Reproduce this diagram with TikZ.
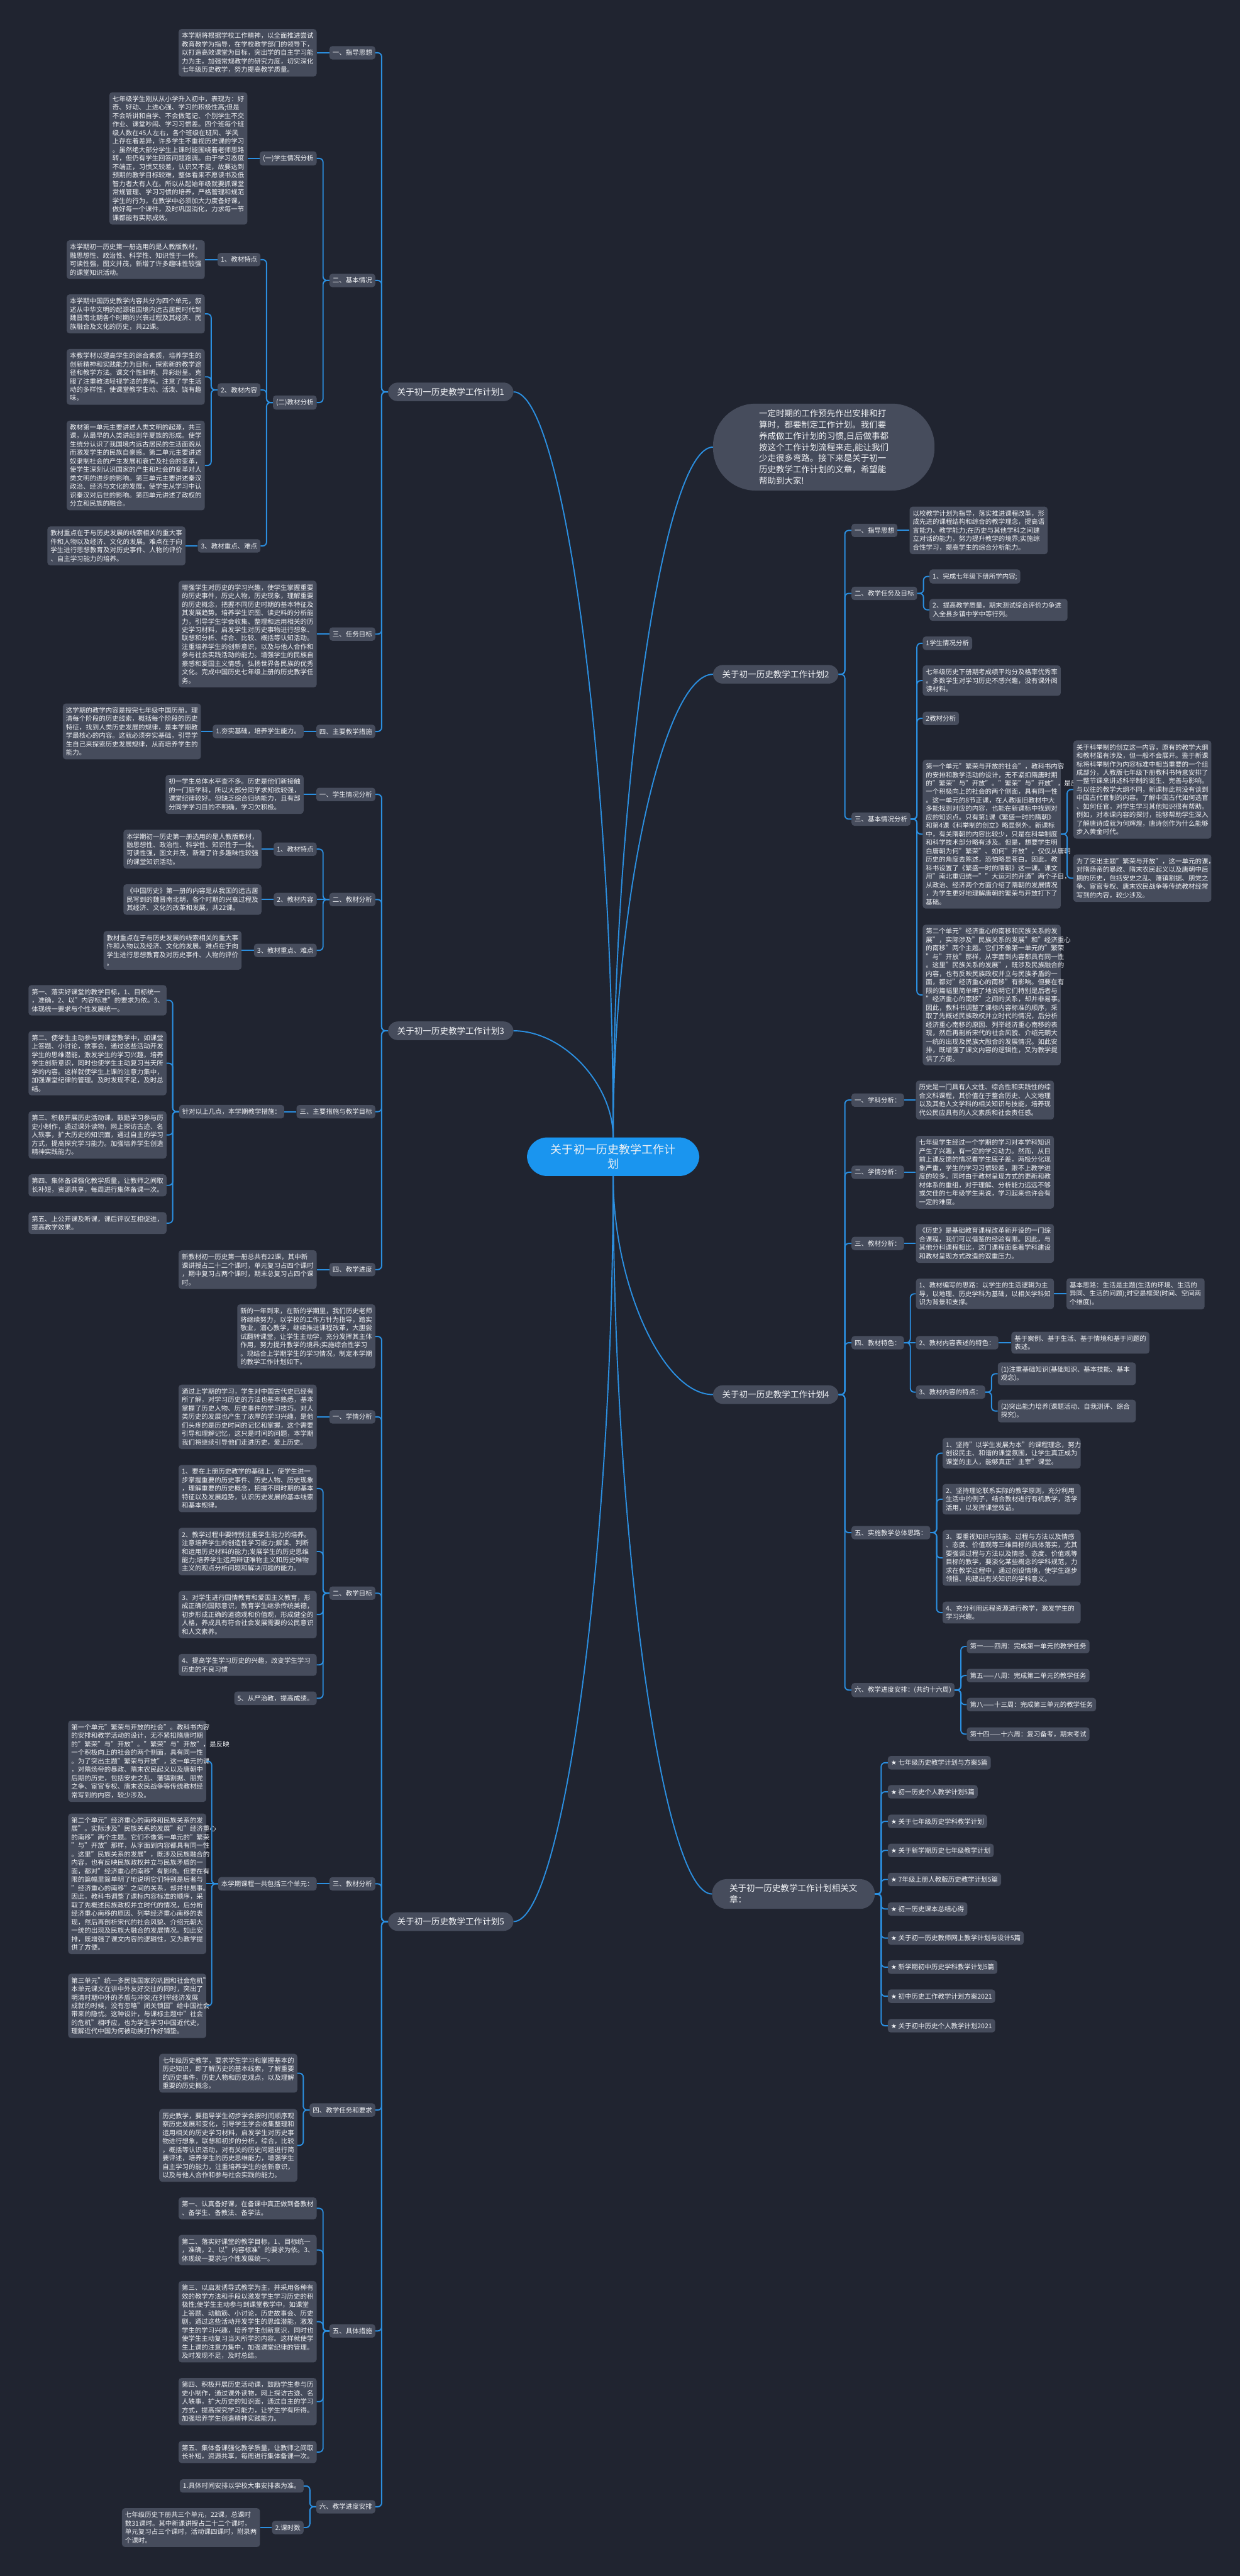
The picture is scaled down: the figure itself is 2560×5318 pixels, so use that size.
\documentclass[tikz,border=0pt]{standalone}
\usepackage{fontspec}
\setmainfont{Noto Sans CJK SC}
\newfontfamily\symfont{DejaVu Sans}
\usetikzlibrary{calc}

\definecolor{bgdark}{RGB}{32,36,48}
\definecolor{boxgray}{RGB}{70,76,92}
\definecolor{linkblue}{RGB}{43,143,224}
\definecolor{rootblue}{RGB}{26,149,239}
\definecolor{inkwhite}{RGB}{240,242,245}

\begin{document}
\begin{tikzpicture}[
  x=1pt, y=-1pt,
  every node/.style={text=inkwhite},
  root/.style={rectangle, rounded corners=42pt, fill=rootblue, align=center,
               text width=260pt, inner xsep=48pt, inner ysep=14pt,
               font=\fontsize{23.4}{30}\selectfont},
  intro/.style={rectangle, rounded corners=88pt, fill=boxgray, align=left,
                inner xsep=95pt, inner ysep=12pt,
                font=\fontsize{17.5}{23.2}\selectfont},
  plan/.style={rectangle, rounded corners=20pt, fill=boxgray, align=left,
               inner xsep=19pt, inner ysep=11pt,
               font=\fontsize{17.6}{23}\selectfont},
  lbl/.style={rectangle, rounded corners=6pt, fill=boxgray, align=left,
              inner xsep=6.5pt, inner ysep=7.5pt,
              font=\fontsize{13.6}{17.5}\selectfont},
  txt/.style={lbl, text width=272pt},
  link/.style={draw=linkblue, line width=2.5pt, rounded corners=8pt},
  branch/.style={to path={.. controls ($(\tikztostart)!0.5!(\tikztostart |- \tikztotarget)$)
                 and ($(\tikztotarget)!0.5!(\tikztostart |- \tikztotarget)$) .. (\tikztotarget)}},
]
\useasboundingbox (0,0) rectangle (2560,5318);
\fill[bgdark] (0,0) rectangle (2560,5318);

% ----------------------------------------------------------------- centre --
\node[root] (root) at (1266,2388) {关于初一历史教学工作计\\划};
\node[intro, anchor=west] (intro) at (1472,923)
  {一定时期的工作预先作出安排和打\\算时，都要制定工作计划。我们要\\养成做工作计划的习惯,日后做事都\\按这个工作计划流程来走,能让我们\\少走很多弯路。接下来是关于初一\\历史教学工作计划的文章，希望能\\帮助到大家!};

% ------------------------------------------------------------------ plan 1 --
\node[plan, anchor=west] (p1) at (801,809) {关于初一历史教学工作计划1};
\node[lbl, anchor=east] (p1a) at (775,109) {一、指导思想};
\node[txt, anchor=east] (p1at) at (654,109) {本学期将根据学校工作精神，以全面推进尝试\\教育教学为指导，在学校教学部门的领导下，\\以打造高效课堂为目标，突出学的自主学习能\\力为主，加强常规教学的研究力度，切实深化\\七年级历史教学，努力提高教学质量。};
\node[lbl, anchor=east] (p1b) at (775,579) {二、基本情况};
\node[lbl, anchor=east] (p1b1) at (654,327) {(一)学生情况分析};
\node[txt, anchor=east] (p1b1t) at (511,327) {七年级学生刚从从小学升入初中，表现为：好\\奇、好动、上进心强、学习的积极性高;但是\\不会听讲和自学、不会做笔记、个别学生不交\\作业、课堂吵闹、学习习惯差。四个班每个班\\级人数在45人左右，各个班级在班风、学风\\上存在着差异，许多学生不重视历史课的学习\\。虽然绝大部分学生上课时能围绕着老师思路\\转，但仍有学生回答问题跑调。由于学习态度\\不端正，习惯又较差，认识又不足，故要达到\\预期的教学目标较难，整体看来不愿读书及低\\智力者大有人在。所以从起始年级就要抓课堂\\常规管理、学习习惯的培养，严格管理和规范\\学生的行为，在教学中必须加大力度备好课，\\做好每一个课件，及时巩固消化，力求每一节\\课都能有实际成效。};
\node[lbl, anchor=east] (p1b2) at (654,831) {(二)教材分析};
\node[lbl, anchor=east] (p1b2a) at (538,536) {1、教材特点};
\node[txt, anchor=east] (p1b2at) at (423,536) {本学期初一历史第一册选用的是人教版教材，\\融思想性、政治性、科学性、知识性于一体。\\可读性强，图文并茂，新增了许多趣味性较强\\的课堂知识活动。};
\node[lbl, anchor=east] (p1b2b) at (538,805) {2、教材内容};
\node[txt, anchor=east] (p1b2b1) at (423,648) {本学期中国历史教学内容共分为四个单元，叙\\述从中华文明的起源祖国境内远古居民时代到\\魏晋南北朝各个时期的兴衰过程及其经济、民\\族融合及文化的历史，共22课。};
\node[txt, anchor=east] (p1b2b2) at (423,778) {本教学材以提高学生的综合素质，培养学生的\\创新精神和实践能力为目标，探索新的教学途\\径和教学方法。课文个性鲜明、异彩纷呈。克\\服了注重教法轻视学法的弊病。注意了学生活\\动的多样性，使课堂教学生动、活泼、饶有趣\\味。};
\node[txt, anchor=east] (p1b2b3) at (423,961) {教材第一单元主要讲述人类文明的起源，共三\\课，从最早的人类讲起到华夏族的形成。使学\\生统分认识了我国境内远古居民的生活面貌从\\而激发学生的民族自豪感。第二单元主要讲述\\奴隶制社会的产生发展和衰亡及社会的变革，\\使学生深刻认识国家的产生和社会的变革对人\\类文明的进步的影响。第三单元主要讲述秦汉\\政治、经济与文化的发展，使学生从学习中认\\识秦汉对后世的影响。第四单元讲述了政权的\\分立和民族的融合。};
\node[lbl, anchor=east] (p1b2c) at (538,1127) {3、教材重点、难点};
\node[txt, anchor=east] (p1b2ct) at (383,1127) {教材重点在于与历史发展的线索相关的重大事\\件和人物以及经济、文化的发展。难点在于向\\学生进行思想教育及对历史事件、人物的评价\\、自主学习能力的培养。};
\node[lbl, anchor=east] (p1c) at (775,1309) {三、任务目标};
\node[txt, anchor=east] (p1ct) at (654,1309) {增强学生对历史的学习兴趣，使学生掌握重要\\的历史事件，历史人物，历史现象，理解重要\\的历史概念，把握不同历史时期的基本特征及\\其发展趋势。培养学生识图、读史料的分析能\\力，引导学生学会收集、整理和运用相关的历\\史学习材料，启发学生对历史事物进行想象、\\联想和分析、综合、比较、概括等认知活动。\\注重培养学生的创新意识，以及与他人合作和\\参与社会实践活动的能力。增强学生的民族自\\豪感和爱国主义情感，弘扬世界各民族的优秀\\文化。完成中国历史七年级上册的历史教学任\\务。};
\node[lbl, anchor=east] (p1d) at (775,1510) {四、主要教学措施};
\node[lbl, anchor=east] (p1d1) at (627,1510) {1.夯实基础，培养学生能力。};
\node[txt, anchor=east] (p1d1t) at (415,1510) {这学期的教学内容是授完七年级中国历册。理\\清每个阶段的历史线索，概括每个阶段的历史\\特征，找到人类历史发展的规律，是本学期教\\学最核心的内容。这就必须夯实基础，引导学\\生自己来探索历史发展规律，从而培养学生的\\能力。};

% ------------------------------------------------------------------ plan 3 --
\node[plan, anchor=west] (p3) at (801,2128) {关于初一历史教学工作计划3};
\node[lbl, anchor=east] (p3a) at (775,1640) {一、学生情况分析};
\node[txt, anchor=east] (p3at) at (627,1640) {初一学生总体水平查不多。历史是他们新接触\\的一门新学科，所以大部分同学求知欲较强，\\课堂纪律较好。但缺乏综合归纳能力，且有部\\分同学学习目的不明确，学习欠积极。};
\node[lbl, anchor=east] (p3b) at (775,1857) {二、教材分析};
\node[lbl, anchor=east] (p3b1) at (654,1753) {1、教材特点};
\node[txt, anchor=east] (p3b1t) at (540,1753) {本学期初一历史第一册选用的是人教版教材，\\融思想性、政治性、科学性、知识性于一体。\\可读性强，图文并茂，新增了许多趣味性较强\\的课堂知识活动。};
\node[lbl, anchor=east] (p3b2) at (654,1857) {2、教材内容};
\node[txt, anchor=east] (p3b2t) at (540,1857) {《中国历史》第一册的内容是从我国的远古居\\民写到的魏晋南北朝，各个时期的兴衰过程及\\其经济、文化的改革和发展，共22课。};
\node[lbl, anchor=east] (p3b3) at (654,1962) {3、教材重点、难点};
\node[txt, anchor=east] (p3b3t) at (499,1962) {教材重点在于与历史发展的线索相关的重大事\\件和人物以及经济、文化的发展。难点在于向\\学生进行思想教育及对历史事件、人物的评价\\。};
\node[lbl, anchor=east] (p3c) at (775,2295) {三、主要措施与教学目标};
\node[lbl, anchor=east] (p3c1) at (587,2295) {针对以上几点，本学期教学措施：};
\node[txt, anchor=east] (p3c1a) at (344,2065) {第一、落实好课堂的教学目标，1、目标统一\\，准确，2、以"内容标准"的要求为依。3、\\体现统一要求与个性发展统一。};
\node[txt, anchor=east] (p3c1b) at (344,2195) {第二、使学生主动参与到课堂教学中，如课堂\\上答题、小讨论，故事会，通过这些活动开发\\学生的思维潜能，激发学生的学习兴趣，培养\\学生创新意识，同时也使学生主动复习当天所\\学的内容。这样就使学生上课的注意力集中，\\加强课堂纪律的管理。及时发现不足，及时总\\结。};
\node[txt, anchor=east] (p3c1c) at (344,2343) {第三、积极开展历史活动课，鼓励学习参与历\\史小制作，通过课外读物，网上探访古迹、名\\人轶事，扩大历史的知识面，通过自主的学习\\方式，提高探究学习能力。加强培养学生创造\\精神实践能力。};
\node[txt, anchor=east] (p3c1d) at (344,2447) {第四、集体备课强化教学质量，让教师之间取\\长补短，资源共享，每周进行集体备课一次。};
\node[txt, anchor=east] (p3c1e) at (344,2525) {第五、上公开课及听课，课后评议互相促进，\\提高教学效果。};
\node[lbl, anchor=east] (p3d) at (775,2621) {四、教学进度};
\node[txt, anchor=east] (p3dt) at (654,2621) {新教材初一历史第一册总共有22课，其中新\\课讲授占二十二个课时，单元复习占四个课时\\，期中复习占两个课时，期末总复习占四个课\\时。};

% ------------------------------------------------------------------ plan 5 --
\node[plan, anchor=west] (p5) at (801,3967) {关于初一历史教学工作计划5};
\node[txt, anchor=east] (p5o) at (775,2759) {新的一年到来，在新的学期里，我们历史老师\\将继续努力，以学校的工作方针为指导，踏实\\敬业，潜心教学，继续推进课程改革，大胆尝\\试翻转课堂，让学生主动学，充分发挥其主体\\作用，努力提升教学的境界;实施综合性学习\\。现结合上学期学生的学习情况，制定本学期\\的教学工作计划如下。};
\node[lbl, anchor=east] (p5a) at (775,2925) {一、学情分析};
\node[txt, anchor=east] (p5at) at (654,2925) {通过上学期的学习，学生对中国古代史已经有\\所了解，对学习历史的方法也基本熟悉，基本\\掌握了历史人物、历史事件的学习技巧。对人\\类历史的发展也产生了浓厚的学习兴趣，是他\\们头疼的是历史时间的记忆和掌握，这个需要\\引导和理解记忆，这只是时间的问题，本学期\\我们将继续引导他们走进历史，爱上历史。};
\node[lbl, anchor=east] (p5b) at (775,3289) {二、教学目标};
\node[txt, anchor=east] (p5b1) at (654,3073) {1、要在上册历史教学的基础上，使学生进一\\步掌握重要的历史事件、历史人物、历史现象\\，理解重要的历史概念，把握不同时期的基本\\特征以及发展趋势，认识历史发展的基本线索\\和基本规律。};
\node[txt, anchor=east] (p5b2) at (654,3203) {2、教学过程中要特别注重学生能力的培养。\\注意培养学生的创造性学习能力;解读、判断\\和运用历史材料的能力;发展学生的历史思维\\能力;培养学生运用辩证唯物主义和历史唯物\\主义的观点分析问题和解决问题的能力。};
\node[txt, anchor=east] (p5b3) at (654,3333) {3、对学生进行国情教育和爱国主义教育，形\\成正确的国际意识，教育学生继承传统美德，\\初步形成正确的道德观和价值观，形成健全的\\人格，养成具有符合社会发展需要的公民意识\\和人文素养。};
\node[txt, anchor=east] (p5b4) at (654,3437) {4、提高学生学习历史的兴趣，改变学生学习\\历史的不良习惯};
\node[lbl, anchor=east] (p5b5) at (654,3506) {5、从严治教，提高成绩。};
\node[lbl, anchor=east] (p5c) at (775,3889) {三、教材分析};
\node[lbl, anchor=east] (p5c1) at (654,3889) {本学期课程一共包括三个单元：};
\node[txt, anchor=east] (p5c1a) at (426,3636) {第一个单元"繁荣与开放的社会"。教科书内容\\的安排和教学活动的设计，无不紧扣隋唐时期\\的"繁荣"与"开放"。"繁荣"与"开放"，是反映\\一个积极向上的社会的两个侧面，具有同一性\\。为了突出主题"繁荣与开放"，这一单元的课\\，对隋炀帝的暴政、隋末农民起义以及唐朝中\\后期的历史，包括安史之乱、藩镇割据、朋党\\之争、宦官专权、唐末农民战争等传统教材经\\常写到的内容，较少涉及。};
\node[txt, anchor=east] (p5c1b) at (426,3889) {第二个单元"经济重心的南移和民族关系的发\\展"。实际涉及"民族关系的发展"和"经济重心\\的南移"两个主题。它们不像第一单元的"繁荣\\"与"开放"那样，从字面到内容都具有同一性\\。这里"民族关系的发展"，既涉及民族融合的\\内容，也有反映民族政权并立与民族矛盾的一\\面，都对"经济重心的南移"有影响。但要在有\\限的篇幅里简单明了地说明它们特别是后者与\\"经济重心的南移"之间的关系，却并非易事。\\因此，教科书调整了课标内容标准的顺序，采\\取了先概述民族政权并立时代的情况，后分析\\经济重心南移的原因、列举经济重心南移的表\\现，然后再剖析宋代的社会风貌、介绍元朝大\\一统的出现及民族大融合的发展情况。如此安\\排，既增强了课文内容的逻辑性，又为教学提\\供了方便。};
\node[txt, anchor=east] (p5c1c) at (426,4141) {第三单元"统一多民族国家的巩固和社会危机"\\本单元课文在讲中外友好交往的同时，突出了\\明清时期中外的矛盾与冲突;在列举经济发展\\成就的时候，没有忽略"闭关锁国"给中国社会\\带来的隐忧。这种设计，与课标主题中"社会\\的危机"相呼应，也为学生学习中国近代史，\\理解近代中国为何被动挨打作好铺垫。};
\node[lbl, anchor=east] (p5d) at (775,4356) {四、教学任务和要求};
\node[txt, anchor=east] (p5d1) at (614,4280) {七年级历史教学，要求学生学习和掌握基本的\\历史知识，即了解历史的基本线索，了解重要\\的历史事件，历史人物和历史观点，以及理解\\重要的历史概念。};
\node[txt, anchor=east] (p5d2) at (614,4429) {历史教学，要指导学生初步学会按时间顺序观\\察历史发展和变化，引导学生学会收集整理和\\运用相关的历史学习材料，启发学生对历史事\\物进行想象，联想和初步的分析，综合，比较\\，概括等认识活动，对有关的历史问题进行简\\要评述，培养学生的历史思维能力，增强学生\\自主学习的能力，注重培养学生的创新意识，\\以及与他人合作和参与社会实践的能力。};
\node[lbl, anchor=east] (p5e) at (775,4812) {五、具体措施};
\node[txt, anchor=east] (p5e1) at (654,4559) {第一、认真备好课，在备课中真正做到备教材\\、备学生、备教法、备学法。};
\node[txt, anchor=east] (p5e2) at (654,4645) {第二、落实好课堂的教学目标，1、目标统一\\，准确，2、以"内容标准"的要求为依。3、\\体现统一要求与个性发展统一。};
\node[txt, anchor=east] (p5e3) at (654,4793) {第三、以启发诱导式教学为主，并采用各种有\\效的教学方法和手段以激发学生学习历史的积\\极性;使学生主动参与到课堂教学中，如课堂\\上答题、动脑筋、小讨论，历史故事会、历史\\剧，通过这些活动开发学生的思维潜能，激发\\学生的学习兴趣，培养学生创新意识，同时也\\使学生主动复习当天所学的内容。这样就使学\\生上课的注意力集中，加强课堂纪律的管理。\\及时发现不足，及时总结。};
\node[txt, anchor=east] (p5e4) at (654,4958) {第四、积极开展历史活动课，鼓励学生参与历\\史小制作，通过课外读物，网上探访古迹、名\\人轶事，扩大历史的知识面，通过自主的学习\\方式，提高探究学习能力，让学生学有所得。\\加强培养学生创造精神实践能力。};
\node[txt, anchor=east] (p5e5) at (654,5062) {第五、集体备课强化教学质量，让教师之间取\\长补短，资源共享，每周进行集体备课一次。};
\node[lbl, anchor=east] (p5f) at (775,5175) {六、教学进度安排};
\node[lbl, anchor=east] (p5f1) at (627,5132) {1.具体时间安排以学校大事安排表为准。};
\node[lbl, anchor=east] (p5f2) at (627,5218) {2.课时数};
\node[txt, anchor=east] (p5f2t) at (537,5218) {七年级历史下册共三个单元，22课，总课时\\数31课时。其中新课讲授占二十二个课时，\\单元复习占三个课时，活动课四课时，附录两\\个课时。};

% ------------------------------------------------------------------ plan 2 --
\node[plan, anchor=west] (p2) at (1472,1392) {关于初一历史教学工作计划2};
\node[lbl, anchor=west] (p2a) at (1758,1095) {一、指导思想};
\node[txt, anchor=west] (p2at) at (1878,1095) {以校教学计划为指导，落实推进课程改革，形\\成先进的课程结构和综合的教学理念，提高语\\言能力、教学能力;在历史与其他学科之间建\\立对话的能力，努力提升教学的境界;实施综\\合性学习，提高学生的综合分析能力。};
\node[lbl, anchor=west] (p2b) at (1758,1225) {二、教学任务及目标};
\node[lbl, anchor=west] (p2b1) at (1919,1190) {1、完成七年级下册所学内容;};
\node[txt, anchor=west] (p2b2) at (1919,1259) {2、提高教学质量，期末测试综合评价力争进\\入全县乡镇中学中等行列。};
\node[lbl, anchor=west] (p2c) at (1758,1691) {三、基本情况分析};
\node[lbl, anchor=west] (p2c1) at (1905,1328) {1学生情况分析};
\node[txt, anchor=west] (p2c2) at (1905,1405) {七年级历史下册期考成绩平均分及格率优秀率\\。多数学生对学习历史不感兴趣，没有课外阅\\读材料。};
\node[lbl, anchor=west] (p2c3) at (1905,1483) {2教材分析};
\node[txt, anchor=west] (p2c4) at (1905,1722) {第一个单元"繁荣与开放的社会"，教科书内容\\的安排和教学活动的设计，无不紧扣隋唐时期\\的"繁荣"与"开放"。"繁荣"与"开放"，是反映\\一个积极向上的社会的两个侧面，具有同一性\\。这一单元的8节正课，在人教版旧教材中大\\多能找到对应的内容，也能在新课标中找到对\\应的知识点。只有第1课《繁盛一时的隋朝》\\和第4课《科举制的创立》略显例外。新课标\\中，有关隋朝的内容比较少，只是在科举制度\\和科学技术部分略有涉及。但是，想要学生明\\白唐朝为何"繁荣"、如何"开放"，仅仅从唐朝\\历史的角度去陈述，恐怕略显苍白。因此，教\\科书设置了《繁盛一时的隋朝》这一课。课文\\用"南北重归统一""大运河的开通"两个子目，\\从政治、经济两个方面介绍了隋朝的发展情况\\，为学生更好地理解唐朝的繁荣与开放打下了\\基础。};
\node[txt, anchor=west] (p2c4a) at (2216,1630) {关于科举制的创立这一内容，原有的教学大纲\\和教材虽有涉及，但一般不会展开。鉴于新课\\标将科举制作为内容标准中相当重要的一个组\\成部分，人教版七年级下册教科书特意安排了\\一整节课来讲述科举制的诞生、完善与影响。\\与以往的教学大纲不同，新课标此前没有谈到\\中国古代官制的内容。了解中国古代如何选官\\、如何任官，对学生学习其他知识很有帮助。\\例如，对本课内容的探讨，能够帮助学生深入\\了解唐诗成就为何辉煌，唐诗创作为什么能够\\步入黄金时代。};
\node[txt, anchor=west] (p2c4b) at (2216,1813) {为了突出主题"繁荣与开放"，这一单元的课，\\对隋炀帝的暴政、隋末农民起义以及唐朝中后\\期的历史，包括安史之乱、藩镇割据、朋党之\\争、宦官专权、唐末农民战争等传统教材经常\\写到的内容，较少涉及。};
\node[txt, anchor=west] (p2c5) at (1905,2054) {第二个单元"经济重心的南移和民族关系的发\\展"，实际涉及"民族关系的发展"和"经济重心\\的南移"两个主题。它们不像第一单元的"繁荣\\"与"开放"那样，从字面到内容都具有同一性\\。这里"民族关系的发展"，既涉及民族融合的\\内容，也有反映民族政权并立与民族矛盾的一\\面，都对"经济重心的南移"有影响。但要在有\\限的篇幅里简单明了地说明它们特别是后者与\\"经济重心的南移"之间的关系，却并非易事。\\因此，教科书调整了课标内容标准的顺序，采\\取了先概述民族政权并立时代的情况，后分析\\经济重心南移的原因、列举经济重心南移的表\\现，然后再剖析宋代的社会风貌、介绍元朝大\\一统的出现及民族大融合的发展情况。如此安\\排，既增强了课文内容的逻辑性，又为教学提\\供了方便。};

% ------------------------------------------------------------------ plan 4 --
\node[plan, anchor=west] (p4) at (1472,2879) {关于初一历史教学工作计划4};
\node[lbl, anchor=west] (p4a) at (1758,2271) {一、学科分析：};
\node[txt, anchor=west] (p4at) at (1891,2271) {历史是一门具有人文性、综合性和实践性的综\\合文科课程，其价值在于整合历史、人文地理\\以及其他人文学科的相关知识与技能，培养现\\代公民应具有的人文素质和社会责任感。};
\node[lbl, anchor=west] (p4b) at (1758,2420) {二、学情分析：};
\node[txt, anchor=west] (p4bt) at (1891,2420) {七年级学生经过一个学期的学习对本学科知识\\产生了兴趣，有一定的学习动力。然而，从目\\前上课反馈的情况看学生底子差，两极分化现\\象严重，学生的学习习惯较差，跟不上教学进\\度的较多。同时由于教材呈现方式的更新和教\\材体系的重组，对于理解、分析能力远远不够\\或欠佳的七年级学生来说，学习起来也许会有\\一定的难度。};
\node[lbl, anchor=west] (p4c) at (1758,2567) {三、教材分析：};
\node[txt, anchor=west] (p4ct) at (1891,2567) {《历史》是基础教育课程改革新开设的一门综\\合课程，我们可以借鉴的经验有限。因此，与\\其他分科课程相比，这门课程面临着学科建设\\和教材呈现方式改造的双重压力。};
\node[lbl, anchor=west] (p4d) at (1758,2772) {四、教材特色：};
\node[txt, anchor=west] (p4d1) at (1891,2671) {1、教材编写的思路：以学生的生活逻辑为主\\导，以地理、历史学科为基础，以相关学科知\\识为背景和支撑。};
\node[txt, anchor=west] (p4d1t) at (2202,2671) {基本思路：生活是主题(生活的环境、生活的\\异同、生活的问题);时空是框架(时间、空间两\\个维度)。};
\node[lbl, anchor=west] (p4d2) at (1891,2772) {2、教材内容表述的特色：};
\node[txt, anchor=west] (p4d2t) at (2088,2772) {基于案例、基于生活、基于情境和基于问题的\\表述。};
\node[lbl, anchor=west] (p4d3) at (1891,2874) {3、教材内容的特点：};
\node[txt, anchor=west] (p4d3a) at (2060,2836) {(1)注重基础知识(基础知识、基本技能、基本\\观念)。};
\node[txt, anchor=west] (p4d3b) at (2060,2913) {(2)突出能力培养(课题活动、自我测评、综合\\探究)。};
\node[lbl, anchor=west] (p4e) at (1758,3164) {五、实施教学总体思路：};
\node[txt, anchor=west] (p4e1) at (1946,3000) {1、坚持"以学生发展为本"的课程理念，努力\\创设民主、和谐的课堂氛围，让学生真正成为\\课堂的主人，能够真正"主宰"课堂。};
\node[txt, anchor=west] (p4e2) at (1946,3095) {2、坚持理论联系实际的教学原则，充分利用\\生活中的例子，结合教材进行有机教学，活学\\活用，以发挥课堂效益。};
\node[txt, anchor=west] (p4e3) at (1946,3216) {3、要重视知识与技能、过程与方法以及情感\\、态度、价值观等三维目标的具体落实，尤其\\要强调过程与方法以及情感、态度、价值观等\\目标的教学，要淡化某些概念的学科规范，力\\求在教学过程中，通过创设情境，使学生逐步\\领悟、构建出有关知识的学科意义。};
\node[txt, anchor=west] (p4e4) at (1946,3329) {4、充分利用远程资源进行教学，激发学生的\\学习兴趣。};
\node[lbl, anchor=west] (p4f) at (1758,3489) {六、教学进度安排：(共约十六周)};
\node[lbl, anchor=west] (p4f1) at (1996,3399) {第一——四周：完成第一单元的教学任务};
\node[lbl, anchor=west] (p4f2) at (1996,3459) {第五——八周：完成第二单元的教学任务};
\node[lbl, anchor=west] (p4f3) at (1996,3519) {第八——十三周：完成第三单元的教学任务};
\node[lbl, anchor=west] (p4f4) at (1996,3580) {第十四——十六周：复习备考，期末考试};

% --------------------------------------------------------------- related --
\node[plan, anchor=west, inner xsep=36pt, rounded corners=30pt] (rel) at (1470,3910) {关于初一历史教学工作计划相关文\\章：};
\node[lbl, anchor=west] (rel1) at (1833,3639) {{\symfont ★} 七年级历史教学计划与方案5篇};
\node[lbl, anchor=west] (rel2) at (1833,3699) {{\symfont ★} 初一历史个人教学计划5篇};
\node[lbl, anchor=west] (rel3) at (1833,3760) {{\symfont ★} 关于七年级历史学科教学计划};
\node[lbl, anchor=west] (rel4) at (1833,3820) {{\symfont ★} 关于新学期历史七年级教学计划};
\node[lbl, anchor=west] (rel5) at (1833,3880) {{\symfont ★} 7年级上册人教版历史教学计划5篇};
\node[lbl, anchor=west] (rel6) at (1833,3941) {{\symfont ★} 初一历史课本总结心得};
\node[lbl, anchor=west] (rel7) at (1833,4001) {{\symfont ★} 关于初一历史教师网上教学计划与设计5篇};
\node[lbl, anchor=west] (rel8) at (1833,4061) {{\symfont ★} 新学期初中历史学科教学计划5篇};
\node[lbl, anchor=west] (rel9) at (1833,4121) {{\symfont ★} 初中历史工作教学计划方案2021};
\node[lbl, anchor=west] (rel10) at (1833,4182) {{\symfont ★} 关于初中历史个人教学计划2021};

% ------------------------------------------------------- root branches --
\draw[link] (root.north) to[branch] (p1.east);
\draw[link] (root.north) to[branch] (p3.east);
\draw[link] (root.south) to[branch] (p5.east);
\draw[link] (root.north) to[branch] (intro.west);
\draw[link] (root.north) to[branch] (p2.west);
\draw[link] (root.south) to[branch] (p4.west);
\draw[link] (root.south) to[branch] (rel.west);

% ------------------------------------------------------ plan 1 links --
\draw[link] (p1.west) -- ++(-13,0) |- (p1a.east);
\draw[link] (p1.west) -- ++(-13,0) |- (p1b.east);
\draw[link] (p1.west) -- ++(-13,0) |- (p1c.east);
\draw[link] (p1.west) -- ++(-13,0) |- (p1d.east);
\draw[link] (p1a.west) -- (p1at.east);
\draw[link] (p1b.west) -- ++(-13,0) |- (p1b1.east);
\draw[link] (p1b.west) -- ++(-13,0) |- (p1b2.east);
\draw[link] (p1b1.west) -- (p1b1t.east);
\draw[link] (p1b2.west) -- ++(-13,0) |- (p1b2a.east);
\draw[link] (p1b2.west) -- ++(-13,0) |- (p1b2b.east);
\draw[link] (p1b2.west) -- ++(-13,0) |- (p1b2c.east);
\draw[link] (p1b2a.west) -- (p1b2at.east);
\draw[link] (p1b2b.west) -- ++(-13,0) |- (p1b2b1.east);
\draw[link] (p1b2b.west) -- ++(-13,0) |- (p1b2b2.east);
\draw[link] (p1b2b.west) -- ++(-13,0) |- (p1b2b3.east);
\draw[link] (p1b2c.west) -- (p1b2ct.east);
\draw[link] (p1c.west) -- (p1ct.east);
\draw[link] (p1d.west) -- (p1d1.east);
\draw[link] (p1d1.west) -- (p1d1t.east);

% ------------------------------------------------------ plan 3 links --
\draw[link] (p3.west) -- ++(-13,0) |- (p3a.east);
\draw[link] (p3.west) -- ++(-13,0) |- (p3b.east);
\draw[link] (p3.west) -- ++(-13,0) |- (p3c.east);
\draw[link] (p3.west) -- ++(-13,0) |- (p3d.east);
\draw[link] (p3a.west) -- (p3at.east);
\draw[link] (p3b.west) -- ++(-13,0) |- (p3b1.east);
\draw[link] (p3b.west) -- (p3b2.east);
\draw[link] (p3b.west) -- ++(-13,0) |- (p3b3.east);
\draw[link] (p3b1.west) -- (p3b1t.east);
\draw[link] (p3b2.west) -- (p3b2t.east);
\draw[link] (p3b3.west) -- (p3b3t.east);
\draw[link] (p3c.west) -- (p3c1.east);
\draw[link] (p3c1.west) -- ++(-13,0) |- (p3c1a.east);
\draw[link] (p3c1.west) -- ++(-13,0) |- (p3c1b.east);
\draw[link] (p3c1.west) -- ++(-13,0) |- (p3c1c.east);
\draw[link] (p3c1.west) -- ++(-13,0) |- (p3c1d.east);
\draw[link] (p3c1.west) -- ++(-13,0) |- (p3c1e.east);
\draw[link] (p3d.west) -- (p3dt.east);

% ------------------------------------------------------ plan 5 links --
\draw[link] (p5.west) -- ++(-13,0) |- (p5o.east);
\draw[link] (p5.west) -- ++(-13,0) |- (p5a.east);
\draw[link] (p5.west) -- ++(-13,0) |- (p5b.east);
\draw[link] (p5.west) -- ++(-13,0) |- (p5c.east);
\draw[link] (p5.west) -- ++(-13,0) |- (p5d.east);
\draw[link] (p5.west) -- ++(-13,0) |- (p5e.east);
\draw[link] (p5.west) -- ++(-13,0) |- (p5f.east);
\draw[link] (p5a.west) -- (p5at.east);
\draw[link] (p5b.west) -- ++(-13,0) |- (p5b1.east);
\draw[link] (p5b.west) -- ++(-13,0) |- (p5b2.east);
\draw[link] (p5b.west) -- ++(-13,0) |- (p5b3.east);
\draw[link] (p5b.west) -- ++(-13,0) |- (p5b4.east);
\draw[link] (p5b.west) -- ++(-13,0) |- (p5b5.east);
\draw[link] (p5c.west) -- (p5c1.east);
\draw[link] (p5c1.west) -- ++(-13,0) |- (p5c1a.east);
\draw[link] (p5c1.west) -- (p5c1b.east);
\draw[link] (p5c1.west) -- ++(-13,0) |- (p5c1c.east);
\draw[link] (p5d.west) -- ++(-13,0) |- (p5d1.east);
\draw[link] (p5d.west) -- ++(-13,0) |- (p5d2.east);
\draw[link] (p5e.west) -- ++(-13,0) |- (p5e1.east);
\draw[link] (p5e.west) -- ++(-13,0) |- (p5e2.east);
\draw[link] (p5e.west) -- ++(-13,0) |- (p5e3.east);
\draw[link] (p5e.west) -- ++(-13,0) |- (p5e4.east);
\draw[link] (p5e.west) -- ++(-13,0) |- (p5e5.east);
\draw[link] (p5f.west) -- ++(-13,0) |- (p5f1.east);
\draw[link] (p5f.west) -- ++(-13,0) |- (p5f2.east);
\draw[link] (p5f2.west) -- (p5f2t.east);

% ------------------------------------------------------ plan 2 links --
\draw[link] (p2.east) -- ++(13,0) |- (p2a.west);
\draw[link] (p2.east) -- ++(13,0) |- (p2b.west);
\draw[link] (p2.east) -- ++(13,0) |- (p2c.west);
\draw[link] (p2a.east) -- (p2at.west);
\draw[link] (p2b.east) -- ++(13,0) |- (p2b1.west);
\draw[link] (p2b.east) -- ++(13,0) |- (p2b2.west);
\draw[link] (p2c.east) -- ++(13,0) |- (p2c1.west);
\draw[link] (p2c.east) -- ++(13,0) |- (p2c2.west);
\draw[link] (p2c.east) -- ++(13,0) |- (p2c3.west);
\draw[link] (p2c.east) -- ++(13,0) |- (p2c4.west);
\draw[link] (p2c.east) -- ++(13,0) |- (p2c5.west);
\draw[link] (p2c4.east) -- ++(13,0) |- (p2c4a.west);
\draw[link] (p2c4.east) -- ++(13,0) |- (p2c4b.west);

% ------------------------------------------------------ plan 4 links --
\draw[link] (p4.east) -- ++(13,0) |- (p4a.west);
\draw[link] (p4.east) -- ++(13,0) |- (p4b.west);
\draw[link] (p4.east) -- ++(13,0) |- (p4c.west);
\draw[link] (p4.east) -- ++(13,0) |- (p4d.west);
\draw[link] (p4.east) -- ++(13,0) |- (p4e.west);
\draw[link] (p4.east) -- ++(13,0) |- (p4f.west);
\draw[link] (p4a.east) -- (p4at.west);
\draw[link] (p4b.east) -- (p4bt.west);
\draw[link] (p4c.east) -- (p4ct.west);
\draw[link] (p4d.east) -- ++(13,0) |- (p4d1.west);
\draw[link] (p4d.east) -- (p4d2.west);
\draw[link] (p4d.east) -- ++(13,0) |- (p4d3.west);
\draw[link] (p4d1.east) -- (p4d1t.west);
\draw[link] (p4d2.east) -- (p4d2t.west);
\draw[link] (p4d3.east) -- ++(13,0) |- (p4d3a.west);
\draw[link] (p4d3.east) -- ++(13,0) |- (p4d3b.west);
\draw[link] (p4e.east) -- ++(13,0) |- (p4e1.west);
\draw[link] (p4e.east) -- ++(13,0) |- (p4e2.west);
\draw[link] (p4e.east) -- ++(13,0) |- (p4e3.west);
\draw[link] (p4e.east) -- ++(13,0) |- (p4e4.west);
\draw[link] (p4f.east) -- ++(13,0) |- (p4f1.west);
\draw[link] (p4f.east) -- ++(13,0) |- (p4f2.west);
\draw[link] (p4f.east) -- ++(13,0) |- (p4f3.west);
\draw[link] (p4f.east) -- ++(13,0) |- (p4f4.west);

% ----------------------------------------------------- related links --
\draw[link] (rel.east) -- ++(13,0) |- (rel1.west);
\draw[link] (rel.east) -- ++(13,0) |- (rel2.west);
\draw[link] (rel.east) -- ++(13,0) |- (rel3.west);
\draw[link] (rel.east) -- ++(13,0) |- (rel4.west);
\draw[link] (rel.east) -- ++(13,0) |- (rel5.west);
\draw[link] (rel.east) -- ++(13,0) |- (rel6.west);
\draw[link] (rel.east) -- ++(13,0) |- (rel7.west);
\draw[link] (rel.east) -- ++(13,0) |- (rel8.west);
\draw[link] (rel.east) -- ++(13,0) |- (rel9.west);
\draw[link] (rel.east) -- ++(13,0) |- (rel10.west);

\end{tikzpicture}
\end{document}
